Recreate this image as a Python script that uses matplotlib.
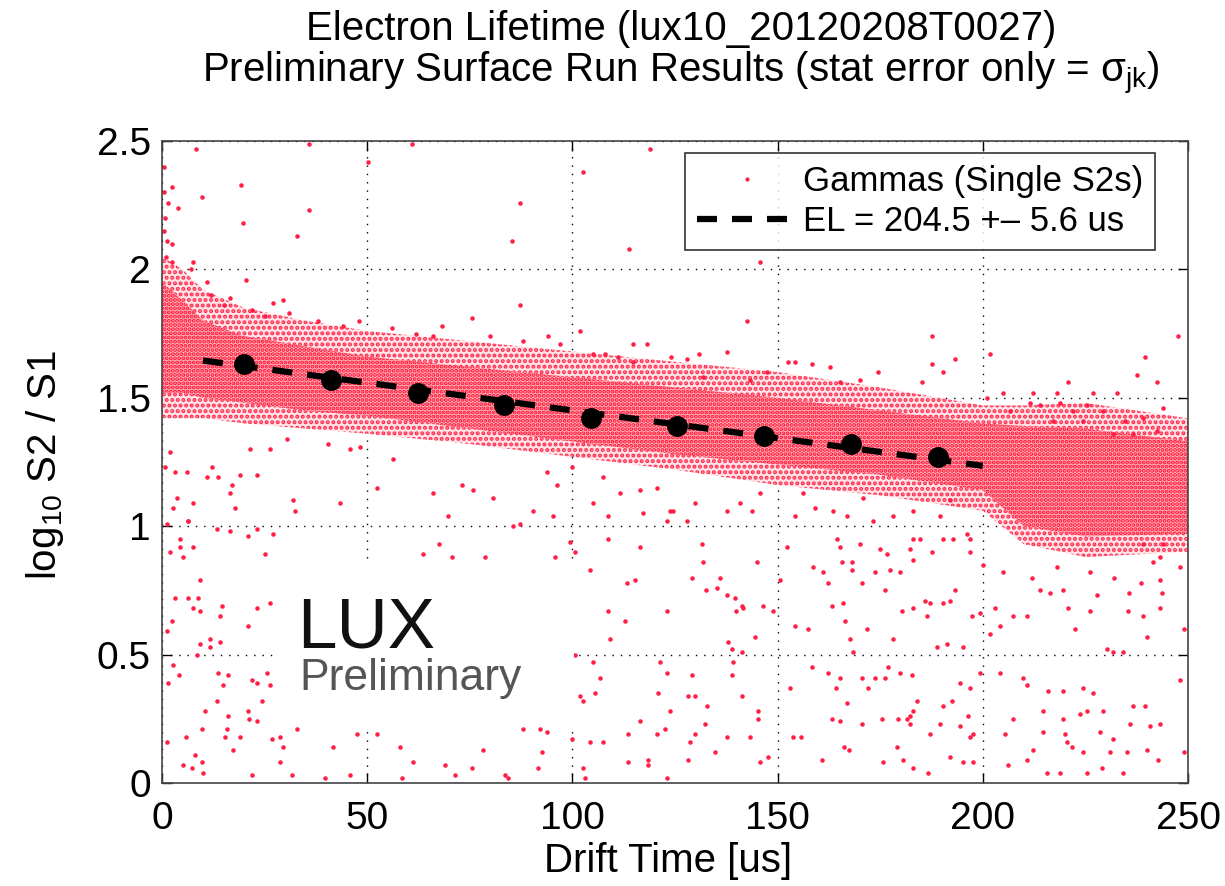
import numpy as np
import matplotlib.pyplot as plt
from matplotlib.lines import Line2D

plt.rcParams["font.family"] = ["Liberation Sans", "DejaVu Sans"]
plt.rcParams["mathtext.fontset"] = "custom"
plt.rcParams["mathtext.rm"] = "Liberation Sans"
plt.rcParams["mathtext.it"] = "Liberation Sans"
plt.rcParams["mathtext.default"] = "regular"
plt.rcParams["hatch.linewidth"] = 2.0

RED = "#ff1f45"

# dense core of the gamma population: envelopes (drift us, log10 S2/S1)
band_x = [0, 5, 10, 20, 35, 50, 75, 100, 125, 150, 175, 200, 210, 225, 250]
outer_hi = [2.05, 2.00, 1.92, 1.85, 1.80, 1.76, 1.72, 1.68, 1.64, 1.60, 1.54, 1.47, 1.47, 1.48, 1.42]
outer_lo = [1.42, 1.42, 1.42, 1.40, 1.38, 1.36, 1.32, 1.27, 1.22, 1.16, 1.12, 1.06, 0.93, 0.88, 0.90]
inner_hi = [1.95, 1.88, 1.80, 1.74, 1.70, 1.66, 1.62, 1.58, 1.54, 1.50, 1.45, 1.40, 1.39, 1.38, 1.33]
inner_lo = [1.52, 1.52, 1.50, 1.48, 1.45, 1.43, 1.38, 1.33, 1.28, 1.24, 1.20, 1.14, 1.00, 0.96, 0.97]

# individual events away from the core, above it
upper_pts = [
    (8.4, 2.47), (35.8, 2.49), (61, 2.49), (50.2, 2.42), (119, 2.47), (2.4, 2.32), (19.3, 2.33),
    (9.7, 2.28), (1.5, 2.26), (4, 2.24), (35.8, 2.23), (102.6, 2.38), (87.2, 2.26), (19.7, 2.18),
    (32.9, 2.13), (1.2, 2.11), (2.5, 2.10), (85.3, 2.11), (113.8, 2.08), (2.4, 2.03), (7.5, 2.03),
    (7, 2.0), (11, 1.95), (20.5, 1.96), (87.2, 1.86), (75.5, 1.81), (29.5, 1.88), (27, 1.87),
    (16.6, 1.89), (68.3, 1.78), (101.9, 1.76), (94, 1.74), (114.8, 1.71), (118.2, 1.71), (108, 1.67),
    (105, 1.67), (111, 1.66), (114.8, 1.64), (145.7, 2.03), (142.5, 1.80), (187.6, 1.74), (201.8, 1.67),
    (193.2, 1.65), (130.9, 1.67), (137.6, 1.68), (152.5, 1.64), (154.2, 1.64), (158.4, 1.63),
    (162.8, 1.62), (187.6, 1.63), (190.3, 1.60), (239.5, 1.66), (174.5, 1.60), (237.6, 1.59),
    (242.5, 1.56), (247.6, 1.74), (147.4, 1.60), (220.8, 1.56), (212.2, 1.52), (218.1, 1.52),
    (226.9, 1.52), (232.7, 1.52), (204.9, 1.52), (201, 1.50), (185.2, 1.56), (170.1, 1.57),
    (165.2, 1.56), (143.3, 1.57), (131.8, 1.58), (211.5, 1.48), (213.9, 1.47), (218.8, 1.48),
    (222, 1.45), (225.4, 1.47), (229.3, 1.45), (234.7, 1.41), (239, 1.42), (242.4, 1.37),
    (243.9, 1.46), (206.6, 1.45), (217.1, 1.41), (224.4, 1.41), (231.7, 1.36), (236.6, 1.36),
    (0.5, 2.40), (0.5, 2.30), (0.8, 2.20), (0.4, 2.15), (1.0, 2.05),
    (12, 1.90), (15, 1.86), (22, 1.84), (25, 1.82), (31, 1.83), (38, 1.80), (44, 1.78), (48, 1.80),
    (56, 1.77), (62, 1.75), (66, 1.74), (80, 1.74), (88, 1.72), (97, 1.71), (124, 1.66), (128, 1.65),
]

# individual events below the core
lower_pts = [
    (0.7, 1.23), (3.2, 1.21), (6.1, 1.21), (2, 1.29), (3.6, 1.11), (2.7, 1.07), (7.6, 1.09), (6.4, 1.02),
    (10.9, 1.19), (13.6, 1.19), (17, 1.16), (16.6, 1.13), (12.2, 1.23), (19, 1.20), (23.1, 1.20),
    (17.8, 1.07), (21.4, 1.30), (26.3, 1.30), (30.4, 1.34), (31.9, 1.10), (32.4, 1.06), (40.5, 1.32),
    (43.4, 1.09), (45.8, 1.30), (48.2, 1.31), (52.4, 1.15), (56.3, 1.26), (66, 1.13), (69.7, 1.04),
    (73.1, 1.16), (75.8, 1.14), (80.7, 1.11), (87.2, 1.01), (90.4, 1.06), (93.8, 1.21), (96.2, 1.16),
    (99.9, 1.23), (105, 1.09), (107.5, 1.19), (111.6, 1.13), (116.5, 1.14), (120.6, 1.15), (123.8, 1.06),
    (117.2, 1.05), (108.7, 1.04), (95.3, 1.04), (124.5, 1.06), (127.9, 1.02), (123, 1.02), (129.9, 1.09),
    (137.6, 1.06), (140.8, 1.09), (145.7, 1.13), (143.8, 1.06), (154.2, 1.04), (156.2, 1.13),
    (159.1, 1.07), (163.5, 1.06), (166.9, 1.04), (170.8, 1.11), (173.2, 1.02), (178.1, 1.04),
    (183, 1.06), (189.6, 1.04), (192, 1.10),
    (1.2, 1.01), (6.3, 1.02), (4.4, 0.95), (4.4, 0.92), (7.6, 0.92), (1.9, 0.90), (5.1, 0.88),
    (13.4, 0.99), (16.6, 0.98), (21, 0.96), (23.1, 0.99), (27, 0.97), (25.1, 0.89), (9.3, 0.79),
    (3.2, 0.72), (6.3, 0.72), (8.8, 0.72), (7.6, 0.68), (9.3, 0.67), (14.6, 0.69), (14.1, 0.65),
    (23.1, 0.68), (21, 0.61), (26.3, 0.70), (2.4, 0.63), (1.2, 0.59), (11.7, 0.56), (9.3, 0.54),
    (14.1, 0.55), (11.7, 0.53), (8.5, 0.50), (2.7, 0.46), (4.1, 0.42), (1.5, 0.39), (13.6, 0.43),
    (16.1, 0.42), (14.9, 0.38), (21.9, 0.40), (23.1, 0.39), (25.6, 0.43), (26.3, 0.38), (24.4, 0.32),
    (21, 0.28), (21.2, 0.25), (23.1, 0.24), (13.4, 0.32), (10.5, 0.28), (16.1, 0.26), (9.7, 0.21),
    (15.8, 0.21), (19, 0.18), (15.4, 0.18), (17.3, 0.13), (1.2, 0.16), (5.8, 0.18), (8, 0.11),
    (9.7, 0.08), (5.1, 0.07), (7.3, 0.06), (10, 0.04), (26.8, 0.17), (28.8, 0.18), (29.5, 0.14),
    (28.8, 0.08), (21.9, 0.03), (31.7, 0.03), (39.7, 0.02), (45.8, 0.03),
    (32.9, 0.21), (41.7, 0.14), (47.5, 0.19), (52.4, 0.19), (58, 0.14), (61.2, 0.08), (58.5, 0.02),
    (69, 0.07), (71.4, 0.03), (75.5, 0.06), (78.2, 0.13), (83.6, 0.03), (84.3, 0.02), (92.1, 0.21),
    (93.8, 0.20), (88, 0.21), (91.6, 0.06), (92.6, 0.12),
    (63.6, 0.89), (67.5, 0.93), (70.7, 0.88), (78.7, 0.88), (85.5, 1.0), (95.8, 0.88), (99.4, 0.94),
    (100.6, 0.90), (104.3, 0.83), (108.7, 0.67), (112.8, 0.63), (109.2, 0.56), (113.3, 0.78),
    (115.3, 0.79), (116.5, 0.92), (108.7, 0.95), (123, 0.67), (105, 0.47), (106.7, 0.41),
    (105.5, 0.35), (101.9, 0.34), (102.6, 0.32), (121.3, 0.47), (123, 0.43), (120.9, 0.35),
    (123.8, 0.28), (116.5, 0.24), (113.5, 0.19), (122.6, 0.21), (120.6, 0.19), (99.9, 0.17),
    (104.3, 0.16), (107.5, 0.16), (102.6, 0.06), (103.1, 0.02), (113.5, 0.08), (118.4, 0.09),
    (118.4, 0.07), (123, 0.02), (100.6, 0.50),
    (131.6, 0.93), (131.8, 0.86), (129.1, 0.80), (136, 0.80), (132.6, 0.75), (135.2, 0.76),
    (137.7, 0.73), (139.6, 0.72), (141.3, 0.69), (141.6, 0.68), (139.9, 0.67), (145, 0.86), (146.4, 0.69),
    (152.3, 0.92), (150.6, 0.79), (158.6, 0.84), (161.1, 0.82), (162.3, 0.78), (164.5, 0.95),
    (165.2, 0.92), (165.7, 0.86), (168.1, 0.86), (170.6, 0.78), (170.1, 0.93), (168.1, 0.83),
    (173.7, 0.82), (175, 0.91), (176.7, 0.89), (177.4, 0.83), (179.8, 0.82), (176.2, 0.75),
    (182.3, 0.91), (183, 0.95), (184.7, 0.95), (183, 0.87), (187.6, 0.90), (190.3, 0.95),
    (192.7, 0.95), (196.2, 0.97), (196.9, 0.90), (196.9, 0.95),
    (137.9, 0.55), (138.9, 0.52), (139.1, 0.47), (141.3, 0.51), (138.9, 0.42), (129.1, 0.42), (144.5, 0.57),
    (128.2, 0.34), (129.9, 0.34), (132.8, 0.30), (141.3, 0.34), (145.2, 0.28), (145.2, 0.25),
    (132.3, 0.23), (129.9, 0.19), (128.7, 0.16), (137.7, 0.18), (143.3, 0.18), (134.7, 0.12),
    (128.2, 0.09), (145.7, 0.08), (147.7, 0.10),
    (148.9, 0.67), (154.2, 0.61), (157.4, 0.60), (158.4, 0.45), (162.3, 0.43), (163.2, 0.69),
    (165.9, 0.70), (166.4, 0.63), (167.6, 0.56), (168.4, 0.51), (164.3, 0.37), (165.1, 0.41),
    (166.9, 0.31), (170.6, 0.41), (172.1, 0.37), (171.8, 0.60), (173.7, 0.41), (176.2, 0.41),
    (176.9, 0.45), (179.8, 0.43), (182.7, 0.42), (178.1, 0.56), (180.3, 0.67), (183, 0.68),
    (185.9, 0.71), (186.4, 0.65), (187.1, 0.70), (190.3, 0.70), (192, 0.71), (193.2, 0.75),
    (188.8, 0.53), (191.3, 0.54), (195.2, 0.53), (194.4, 0.39), (190.3, 0.30), (192.5, 0.32),
    (189.6, 0.23), (194.4, 0.22), (196.9, 0.18), (187.1, 0.19), (184, 0.32), (183, 0.28),
    (182.3, 0.26), (181.5, 0.25), (182.3, 0.23), (179.3, 0.25), (175.4, 0.25), (170.6, 0.23),
    (163.2, 0.25), (165.1, 0.24), (153, 0.37), (153.8, 0.18), (155.8, 0.18), (160.9, 0.09),
    (166.1, 0.14), (167.3, 0.13), (175.7, 0.08), (179, 0.14), (180.5, 0.09), (183, 0.06),
    (186.6, 0.04), (192, 0.10), (195.2, 0.08), (197.6, 0.08),
    (197.4, 0.65), (199.3, 0.66), (201.8, 0.58), (203, 0.68), (204.2, 0.61), (207.4, 0.65),
    (210.8, 0.65), (214, 0.75), (216.4, 0.74), (219.6, 0.75), (220.8, 0.68), (222.5, 0.60),
    (226.1, 0.67), (227.8, 0.73), (230.3, 0.52), (231.8, 0.51), (234.2, 0.51), (235.4, 0.67),
    (239, 0.65), (240, 0.57), (243.2, 0.68), (243.7, 0.74), (243.2, 0.79), (238.6, 0.78),
    (235.7, 0.74), (241.4, 0.86), (243.2, 0.88), (239, 0.93), (243.9, 0.93),
    (199.3, 0.43), (204.2, 0.43), (209.8, 0.41), (210.8, 0.38), (215.9, 0.36), (219.6, 0.36),
    (224.5, 0.37), (226.9, 0.35), (229.3, 0.28), (225.4, 0.28), (223.8, 0.27), (214.7, 0.28),
    (214.7, 0.20), (219.6, 0.25), (220.1, 0.19), (220.6, 0.16), (221.8, 0.14), (224.5, 0.12),
    (228.6, 0.20), (231.8, 0.17), (235.9, 0.23), (236.6, 0.30), (239.5, 0.30), (240.7, 0.22),
    (243.2, 0.23), (242.7, 0.09), (240, 0.13), (235.2, 0.12), (231, 0.12), (234.2, 0.04),
    (229.1, 0.06), (225.4, 0.04), (218.8, 0.04), (215.6, 0.04), (210.8, 0.09), (206.2, 0.07),
    (205.5, 0.19), (207.4, 0.25), (212.3, 0.13), (196.9, 0.37), (197.6, 0.19), (196.4, 0.26),
    (200, 0.85), (205, 0.82), (212, 0.80), (218, 0.84), (226, 0.82), (232, 0.80), (248, 0.84),
    (249, 0.60), (248, 0.40), (249, 0.12),
]

# binned means and exponential fit
mean_x = [20.0, 41.2, 62.4, 83.3, 104.5, 125.5, 146.7, 167.9, 189.1]
mean_y = [1.63, 1.57, 1.52, 1.47, 1.42, 1.39, 1.35, 1.32, 1.27]
fit_x = [10, 200]
fit_y = [1.645, 1.235]


def main():
    fig = plt.figure(figsize=(12.25, 8.86), dpi=100)
    ax = fig.add_axes([0.1322, 0.1163, 0.8376, 0.7246])

    ax.fill_between(band_x, outer_lo, outer_hi, facecolor="#ffe3e7", edgecolor="#ff2a4e",
                    hatch="...", linewidth=0, zorder=1)
    ax.fill_between(band_x, inner_lo, inner_hi, facecolor="#ffb0ba", edgecolor="#ff1030",
                    hatch="....", linewidth=0, zorder=1.1)

    up = np.array(upper_pts)
    lo = np.array(lower_pts)
    ax.plot(up[:, 0], up[:, 1], ".", color=RED, ms=4.5, zorder=2)
    ax.plot(lo[:, 0], lo[:, 1], ".", color=RED, ms=4.5, zorder=2)

    ax.plot(fit_x, fit_y, "--", color="black", lw=4.5, dashes=(3.2, 2.4), zorder=4)
    ax.plot(mean_x, mean_y, "o", color="black", ms=14, zorder=5)

    # LUX watermark on a white patch
    ax.fill_between([27, 100.5], 0.22, 0.85, color="white", linewidth=0, zorder=3)
    ax.text(33.0, 0.526, "LUX", fontsize=51, color="#111111", zorder=3.5)
    ax.text(33.5, 0.362, "Preliminary", fontsize=32, color="#555555", zorder=3.5)

    ax.set_xlim(0, 250)
    ax.set_ylim(0, 2.5)
    ax.set_xticks([0, 50, 100, 150, 200, 250])
    ax.set_yticks([0, 0.5, 1, 1.5, 2, 2.5])
    ax.set_yticklabels(["0", "0.5", "1", "1.5", "2", "2.5"])
    ax.tick_params(direction="in", top=True, right=True, length=7, width=1, labelsize=28)
    ax.tick_params(axis="x", pad=13)
    ax.tick_params(axis="y", pad=8)
    ax.grid(True, ls=(0, (1, 5)), color="black", lw=1.0)
    ax.set_axisbelow(True)
    for s in ax.spines.values():
        s.set_linewidth(1.2)
        s.set_color("#444444")

    handles = [
        Line2D([], [], marker=".", ls="none", color=RED, ms=4),
        Line2D([], [], ls="--", color="black", lw=4.5, dashes=(3.2, 2.4)),
    ]
    labels = ["Gammas (Single S2s)", "EL = 204.5 +\u2013 5.6 us"]
    leg = ax.legend(handles, labels, loc="upper right", bbox_to_anchor=(0.968, 0.981),
                    borderaxespad=0, fontsize=25, frameon=True, fancybox=False,
                    handlelength=2.9, handletextpad=0.15, borderpad=0.35, labelspacing=0.2)
    leg.get_frame().set_edgecolor("black")
    leg.get_frame().set_linewidth(1.2)
    leg.set_zorder(6)

    fig.text(0.556, 0.955, "Electron Lifetime (lux10_20120208T0027)", ha="center",
             va="baseline", fontsize=29)
    fig.text(0.556, 0.907, r"Preliminary Surface Run Results (stat error only = $\sigma_{jk}$)",
             ha="center", va="baseline", fontsize=29)
    fig.text(0.545, 0.028, "Drift Time [us]", ha="center", va="center", fontsize=29)
    fig.text(0.037, 0.475, r"log$_{10}$ S2 / S1", ha="center", va="center",
             rotation=90, fontsize=29)

    fig.savefig("out.png", dpi=100)
    plt.close()


if __name__ == "__main__":
    main()
